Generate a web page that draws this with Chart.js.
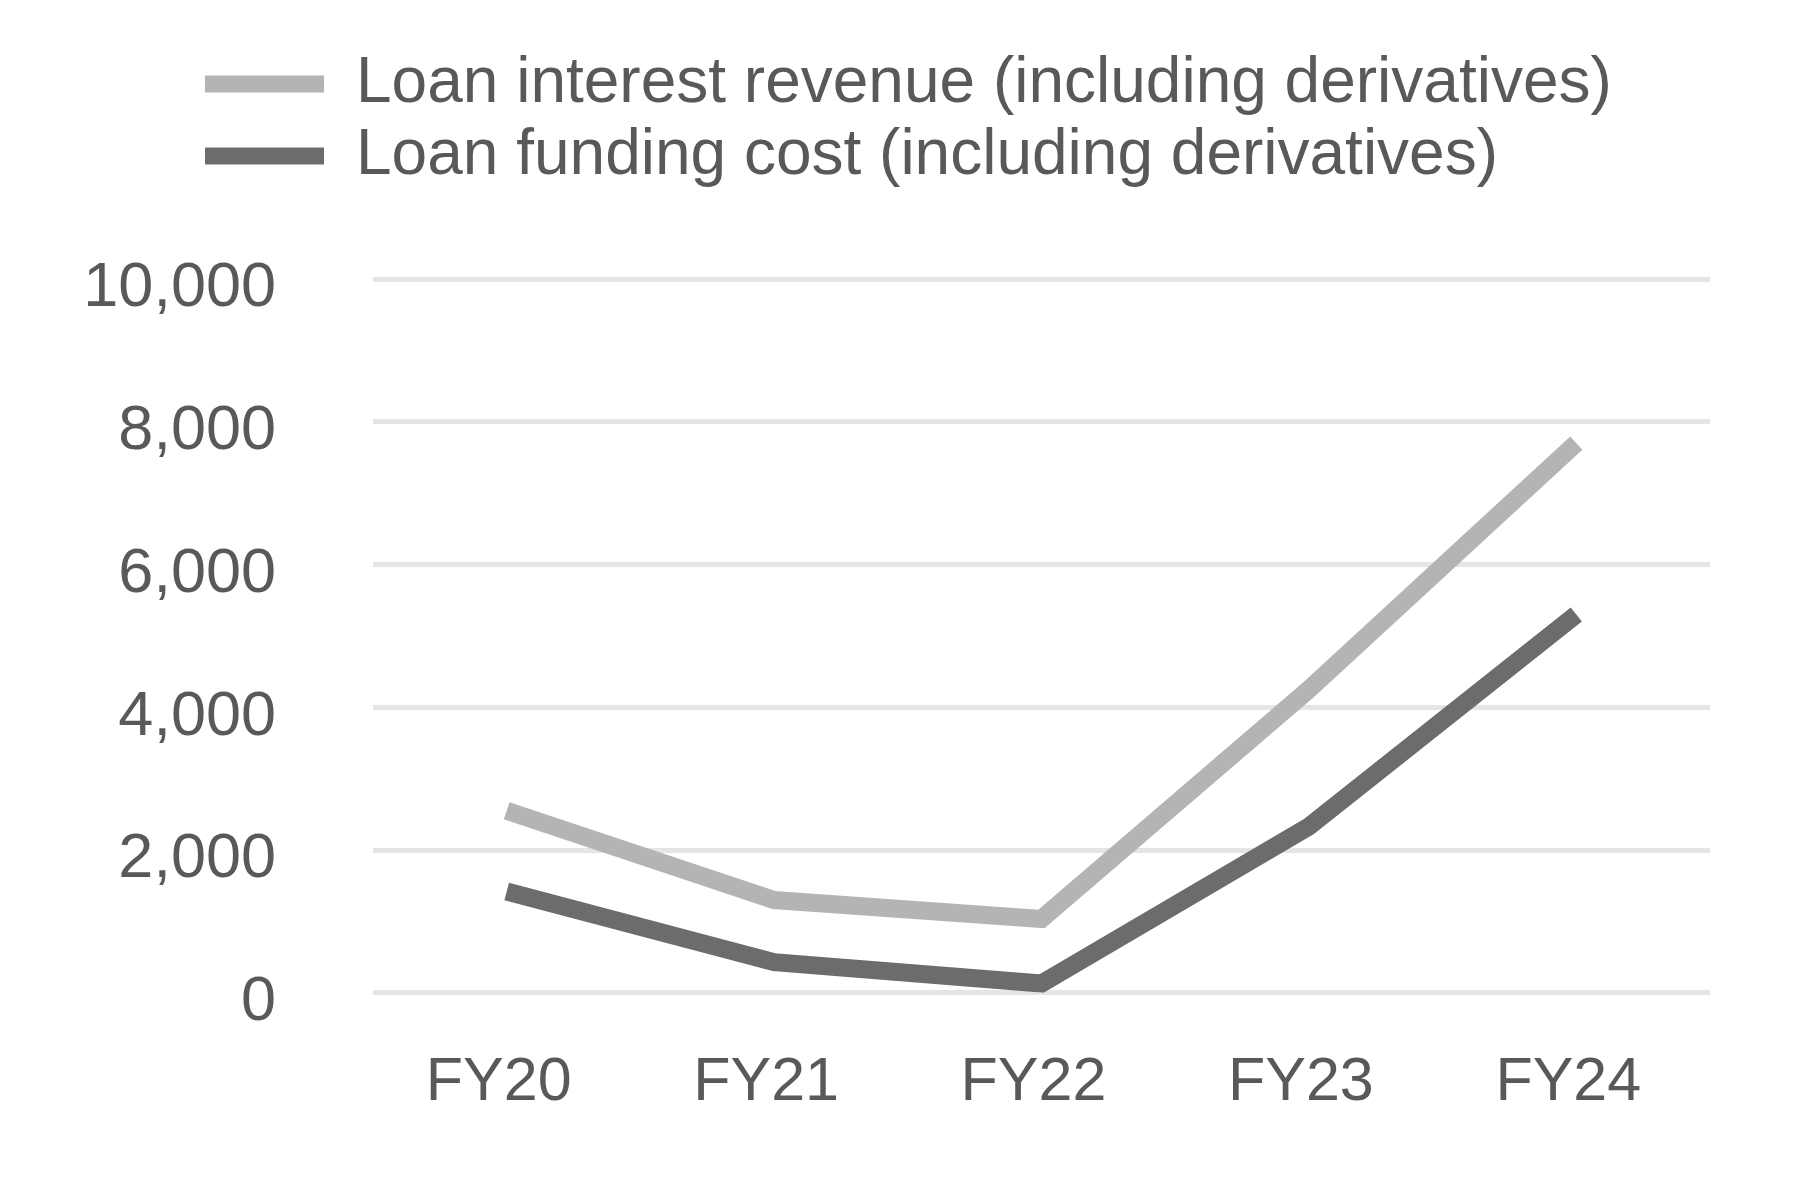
<!DOCTYPE html>
<html>
<head>
<meta charset="utf-8">
<script src="https://cdn.jsdelivr.net/npm/chart.js@4"></script>
<style>
  html, body { margin: 0; padding: 0; background: #fff; }
  #wrap { width: 1800px; height: 1200px; }
</style>
</head>
<body>
<div id="wrap"><canvas id="chart"></canvas></div>
<script>
const years = ["FY20", "FY21", "FY22", "FY23", "FY24"];
const revenue = [2550, 1300, 1035, 4250, 7700];
const fundingCost = [1420, 430, 130, 2330, 5300];
const seriesNames = [
  "Loan interest revenue (including derivatives)",
  "Loan funding cost (including derivatives)"
];

const LIGHT = "#b4b4b4";
const DARK = "#6c6c6c";
const TEXT = "#595959";

// push the legend rows right and leave room under them
const legendTweak = {
  id: "legendTweak",
  beforeInit(chart) {
    const fit = chart.legend.fit;
    chart.legend.fit = function () {
      fit.call(this);
      this.height += 81;
    };
  },
  afterLayout(chart) {
    chart.legend.left += 114;
    chart.legend.right += 114;
  }
};

new Chart(document.getElementById("chart"), {
  type: "line",
  data: {
    labels: years,
    datasets: [
      { label: seriesNames[0], data: revenue, borderColor: LIGHT, backgroundColor: LIGHT },
      { label: seriesNames[1], data: fundingCost, borderColor: DARK, backgroundColor: DARK }
    ]
  },
  options: {
    responsive: true,
    maintainAspectRatio: false,
    animation: false,
    devicePixelRatio: 1,
    layout: { padding: { top: 44, left: 83, right: 90, bottom: 26 } },
    elements: {
      line: { borderWidth: 18, tension: 0, borderCapStyle: "butt", borderJoinStyle: "miter" },
      point: { radius: 0, hoverRadius: 0 }
    },
    plugins: {
      tooltip: { enabled: false },
      legend: {
        position: "top",
        align: "start",
        labels: {
          color: TEXT,
          font: { family: "'Liberation Sans', Arial", size: 64 },
          boxWidth: 119,
          boxHeight: 17,
          padding: 8,
          generateLabels(chart) {
            return chart.data.datasets.map((ds, i) => ({
              text: ds.label,
              fillStyle: ds.borderColor,
              strokeStyle: ds.borderColor,
              lineWidth: 0,
              fontColor: TEXT,
              datasetIndex: i
            }));
          }
        }
      }
    },
    scales: {
      x: {
        offset: true,
        grid: { display: false, drawTicks: false },
        border: { display: false },
        ticks: {
          color: TEXT,
          padding: 54,
          labelOffset: -8,
          font: { family: "'Liberation Sans', Arial", size: 61 }
        }
      },
      y: {
        min: 0,
        max: 10000,
        afterFit(scale) { scale.width = 290; },
        grid: { color: "#e5e5e5", lineWidth: 5, drawTicks: false },
        border: { display: false },
        ticks: {
          stepSize: 2000,
          color: TEXT,
          padding: 97,
          labelOffset: 10,
          font: { family: "'Liberation Sans', Arial", size: 63 }
        }
      }
    }
  },
  plugins: [legendTweak]
});
</script>
</body>
</html>
